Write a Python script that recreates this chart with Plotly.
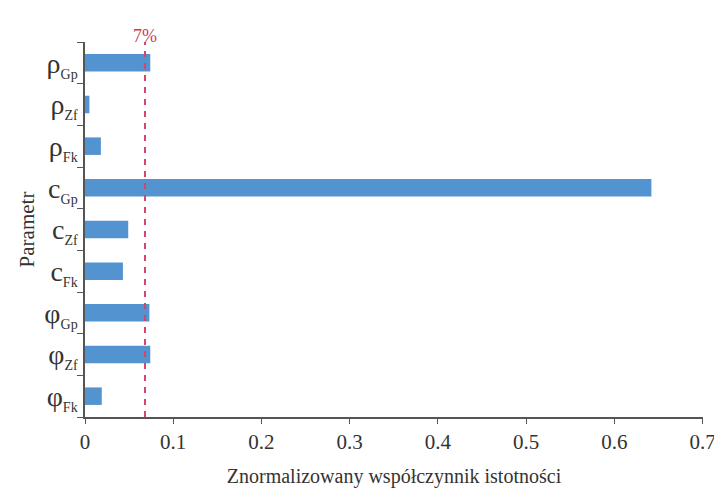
import plotly.graph_objects as go

def lbl(main, sub):
    return f"{main}<sub><span style='font-size:14px'>{sub}</span></sub>"

params = [lbl("φ", "Fk"), lbl("φ", "Zf"), lbl("φ", "Gp"),
          lbl("c", "Fk"), lbl("c", "Zf"), lbl("c", "Gp"),
          lbl("ρ", "Fk"), lbl("ρ", "Zf"), lbl("ρ", "Gp")]
values = [0.019, 0.074, 0.073, 0.043, 0.049, 0.642, 0.018, 0.005, 0.074]
threshold = 0.068
threshold_label = "7%"
x_ticks = [0, 0.1, 0.2, 0.3, 0.4, 0.5, 0.6, 0.7]

fig = go.Figure()
fig.add_trace(go.Bar(
    x=values, y=params, orientation="h",
    marker=dict(color="#5393cf", line=dict(width=0)),
    width=0.42,
))

fig.add_shape(type="line", xref="x", yref="paper",
              x0=threshold, x1=threshold, y0=0, y1=1,
              line=dict(color="#d2476a", width=2, dash="6px,6px"))
fig.add_annotation(x=threshold, xref="x", y=1.0, yref="paper",
                   yshift=18, text=threshold_label, showarrow=False,
                   font=dict(family="Liberation Serif", size=18, color="#c93d55"))

serif = "Liberation Serif"
fig.update_layout(
    width=714, height=490,
    margin=dict(l=85, r=11, t=42, b=73, autoexpand=False),
    plot_bgcolor="white", paper_bgcolor="white",
    showlegend=False,
    font=dict(family=serif, color="#333333"),
    xaxis=dict(
        range=[0, 0.7005], tickvals=x_ticks,
        ticktext=[("%g" % v) for v in x_ticks],
        showgrid=False, zeroline=False,
        showline=True, linecolor="#555555", linewidth=1.5,
        ticks="outside", ticklen=5, tickcolor="#555555",
        ticklabeloverflow="allow",
        tickfont=dict(family=serif, size=21, color="#333333"),
        title=dict(text="Znormalizowany współczynnik istotności",
                   font=dict(family=serif, size=20, color="#333333"),
                   standoff=16),
    ),
    yaxis=dict(
        type="category", categoryorder="array", categoryarray=params,
        showgrid=False, zeroline=False,
        showline=True, linecolor="#555555", linewidth=1.5,
        ticks="outside", ticklen=6, tickcolor="#555555",
        tickson="boundaries",
        tickfont=dict(family=serif, size=28, color="#333333"),
        title=dict(text="Parametr",
                   font=dict(family=serif, size=21, color="#333333"),
                   standoff=4),
    ),
)

fig.write_html("out.html")
